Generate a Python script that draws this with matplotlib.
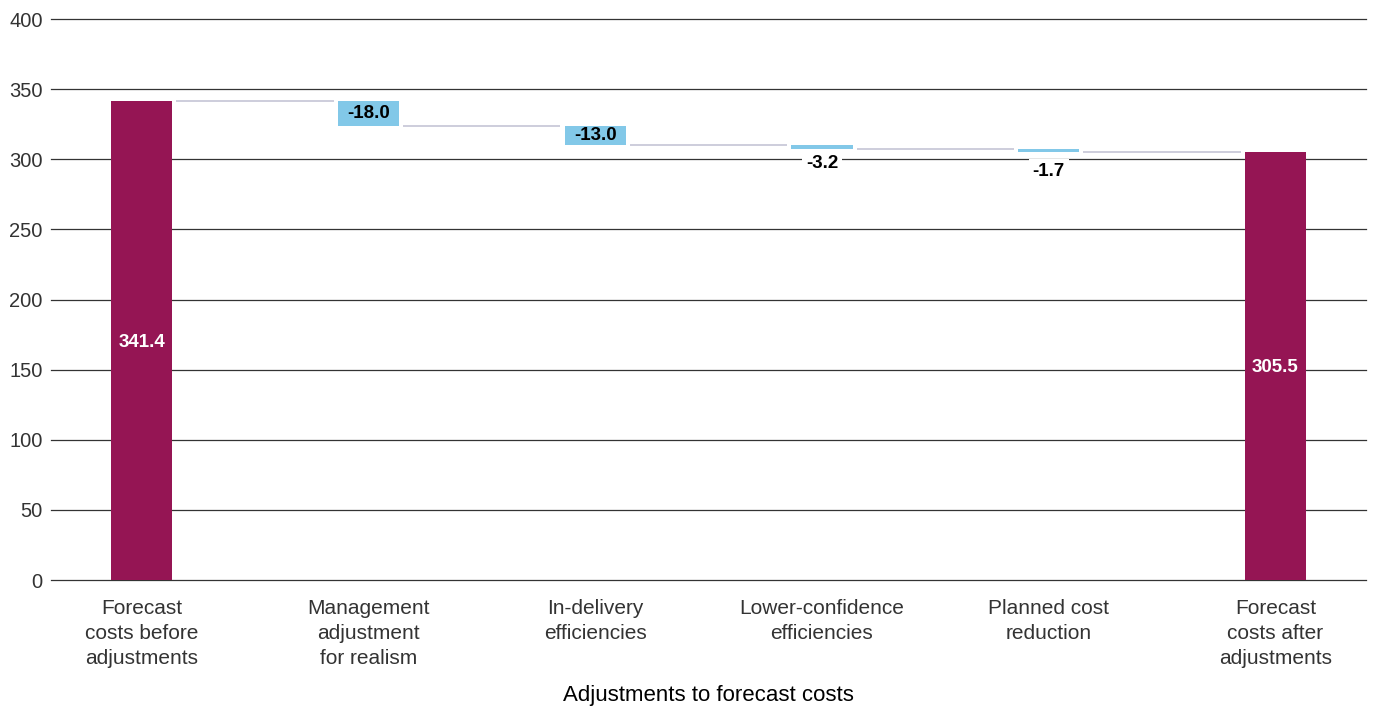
import matplotlib
matplotlib.use("AGG")
import matplotlib.pyplot as plt
import numpy as np

plt.rcParams['font.family'] = ['Liberation Sans', 'DejaVu Sans']

# data
categories = ["Forecast\ncosts before\nadjustments", "Management\nadjustment\nfor realism",
              "In-delivery\nefficiencies", "Lower-confidence\nefficiencies",
              "Planned cost\nreduction", "Forecast\ncosts after\nadjustments"]
start_total = 341.4
changes = [-18.0, -13.0, -3.2, -1.7]
end_total = 305.5
y_ticks = [0, 50, 100, 150, 200, 250, 300, 350, 400]

purple = "#951554"
blue = "#82c8e8"
conn = "#c9c9d9"

fig = plt.figure(figsize=(13.75, 7.07), dpi=100)
ax = fig.add_axes([0.0371, 0.1796, 0.9564, 0.7935])

x = np.arange(len(categories))
w = 0.27

# totals
ax.bar(x[0], start_total, width=w, color=purple, zorder=3)
ax.bar(x[-1], end_total, width=w, color=purple, zorder=3)
for xi, v in [(x[0], start_total), (x[-1], end_total)]:
    ax.text(xi, v / 2, f"{v:.1f}", color="white", ha="center", va="center_baseline",
            fontsize=13.5, fontweight="bold", zorder=4)

# floating changes
level = start_total
levels = [start_total]
small_off = [-4, -8]  # label offsets (points) below the thin bars
k = 0
for i, c in enumerate(changes):
    xi = x[i + 1]
    ax.bar(xi, c, bottom=level, width=w, color=blue, zorder=3)
    lab = f"{c:.1f}"
    if abs(c) > 10:
        ax.text(xi, level + c / 2, lab, ha="center", va="center", fontsize=13.5,
                fontweight="bold", color="black", zorder=4)
    else:
        ax.annotate(lab, (xi, level + c), xytext=(0, small_off[k]), textcoords="offset points",
                    ha="center", va="top", fontsize=13.5, fontweight="bold", color="black",
                    bbox=dict(boxstyle="square,pad=0.2", fc="white", ec="none"), zorder=2.5)
        k += 1
    level += c
    levels.append(level)

# connectors
gap = 0.018
for i, lv in enumerate(levels):
    ax.plot([x[i] + w / 2 + gap, x[i + 1] - w / 2 - gap], [lv, lv], color=conn,
            lw=1.3, zorder=2, solid_capstyle="butt")

ax.set_xlim(-0.4, 5.4)
ax.set_ylim(0, 400)
ax.set_yticks(y_ticks)
ax.set_xticks(x)
ax.set_xticklabels(categories, fontsize=15, color="#333333", linespacing=1.4)
ax.tick_params(axis="y", length=0, labelsize=14.5, labelcolor="#333333", pad=6)
ax.tick_params(axis="x", length=0, pad=14)
ax.yaxis.grid(True, color="#333333", lw=0.9, zorder=1)
for gl in ax.get_ygridlines():
    gl.set_clip_on(False)
for s in ax.spines.values():
    s.set_visible(False)
ax.set_xlabel("Adjustments to forecast costs", fontsize=16, color="black", labelpad=12)

plt.savefig("out.png", dpi=100)
